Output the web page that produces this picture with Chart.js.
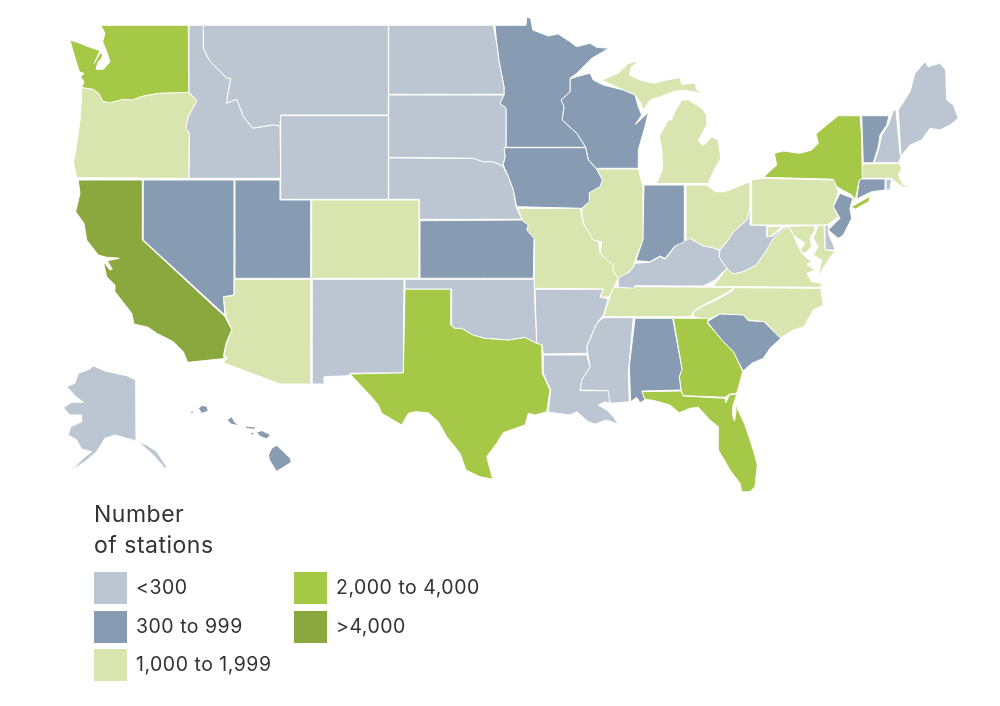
<!DOCTYPE html>
<html>
<head>
<meta charset="utf-8">
<title>Number of stations</title>
<script src="https://cdn.jsdelivr.net/npm/chart.js@4"></script>
<style>
    html, body { margin: 0; padding: 0; background: #fff; }
    #wrap { position: relative; width: 1000px; height: 706px; overflow: hidden; font-family: Inter, Lato, sans-serif; color: #333; }
    #map { position: absolute; left: 0; top: 0; }
    #legendTitle { position: absolute; left: 94px; top: 499px; font-size: 23px; line-height: 31px; letter-spacing: 0.5px; }
    .key { position: absolute; width: 33px; height: 32px; }
    .keyText { position: absolute; font-size: 19.5px; line-height: 22px; letter-spacing: 0.5px; white-space: nowrap; }
</style>
</head>
<body>
<div id="wrap">
    <canvas id="map" width="1000" height="706"></canvas>
    <div id="legendTitle">Number<br>of stations</div>
</div>
<script>
// legend classes
const binLabels = ['<300', '300 to 999', '1,000 to 1,999', '2,000 to 4,000', '>4,000'];
const binColors = ['#bcc6d2', '#879cb2', '#d8e5ae', '#a5c847', '#8aa83d'];

// class of each state, index into binLabels
const stateBins = {
    WA: 3, OR: 2, CA: 4, NV: 1, ID: 0, MT: 0, WY: 0, UT: 1, CO: 2, AZ: 2, NM: 0,
    ND: 0, SD: 0, NE: 0, KS: 1, OK: 0, TX: 3, MN: 1, IA: 1, MO: 2, AR: 0, LA: 0,
    WI: 1, IL: 2, MI: 2, IN: 1, OH: 2, KY: 0, TN: 2, MS: 0, AL: 1, GA: 3, FL: 3,
    SC: 1, NC: 2, VA: 2, WV: 0, MD: 2, DE: 0, PA: 2, NJ: 1, NY: 3, CT: 1, RI: 0,
    MA: 2, VT: 1, NH: 0, ME: 0, AK: 0, HI: 1
};

// state outlines in map units
const WA = [[[100.7,25.3],[188.3,25.3],[188.7,92.3],[158.3,93.3],[143.3,96],[131.7,100],[123.3,99.3],[110,102.7],[102.7,101.3],[99.3,94],[93.3,89.3],[81.7,87.5],[84,81.7],[80.7,76.7],[84,73.3],[79.3,71.7],[76.7,63.3],[72.7,50],[70,40],[80,43.3],[90,47.3],[100,50.7],[94.3,63.3],[100,53.3],[102.7,53.3],[101.7,58.3],[98,62],[96,69.3],[103.3,69.3],[110,61.7],[106.7,51.7],[102.7,41.7],[105,33.3]]];
const OR = [[[81.7,87.5],[93.3,89.3],[99.3,94],[102.7,101.3],[110,102.7],[123.3,99.3],[131.7,100],[143.3,96],[158.3,93.3],[188.7,92.3],[196.7,100.7],[188.3,116.7],[185.7,128.3],[189.3,133.3],[188.7,178.3],[76.7,177.7],[73.3,161.7],[75.7,151.7],[80,120],[81.7,96.7]]];
const CA = [[[78.3,180],[142.3,180],[142.3,240],[225,316.7],[231.7,330],[226,343.3],[223.3,356.7],[226.7,358.3],[187.7,362.3],[183.3,351.7],[173.3,341.7],[166.7,338.3],[156.7,333.3],[148.3,327.3],[134,324],[131.7,313.3],[115,291.7],[115,285],[106.7,276.7],[103.3,261.7],[110,270],[112.3,269.3],[107.3,260.7],[119.3,258.3],[106.7,257.3],[98.3,255],[86.7,240],[84,223.3],[75.7,211.7],[80,193.3]]];
const NV = [[[143.3,180],[234,180],[234,295],[223.3,296.7],[225,315],[143.3,240]]];
const ID = [[[189,25.3],[203.3,25.3],[203.3,48.3],[209,60],[226.7,78.3],[230.7,78.3],[227.3,96.7],[226.7,103.3],[236.7,99.3],[243.3,116.7],[252.7,128.3],[273.3,125],[280,126],[280.7,178.3],[189,178.3],[189.3,133.3],[185.7,128.3],[188.3,116.7],[196.7,100.7],[189,92.3]]];
const MT = [[[203.5,25.3],[388.3,25.3],[388.3,115],[280.7,115],[280,126],[273.3,125],[252.7,128.3],[243.3,116.7],[236.7,99.3],[226.7,103.3],[227.3,96.7],[230.7,78.3],[226.7,78.3],[209,60],[203.5,48.3]]];
const WY = [[[280.7,115.7],[388.3,115.7],[388.3,199.3],[280.7,199.3]]];
const UT = [[[235,180],[280,180],[280,200],[310.7,200],[310.7,278.3],[235,278.3]]];
const CO = [[[311.7,200],[419,200],[419,278.3],[311.7,278.3]]];
const AZ = [[[235,279.3],[310.7,279.3],[310.7,384],[280,384],[223.3,362.7],[227.3,358.3],[224,355],[226.7,343.3],[232,330],[226,316.7],[223.3,296.7],[231.7,296],[234,295.3]]];
const NM = [[[312.3,279.3],[404,279.3],[403.3,372.7],[350,373.3],[348.3,375.7],[324,376.7],[324,384],[312.3,384]]];
const ND = [[[388.7,25.3],[493.3,25.3],[496.7,43],[499.3,63],[504,86.7],[504,94.3],[388.7,94.3]]];
const SD = [[[388.7,95],[504,95],[500,103.3],[506,108.3],[506,146.7],[504,148.3],[505,156.7],[502.7,166],[493.3,161.7],[483.3,161.7],[473.3,158.3],[388.7,157.3]]];
const NE = [[[388.7,158],[473.3,158.3],[483.3,161.7],[493.3,161.7],[502.7,166],[508.3,176.7],[513.3,190],[516,206.7],[521.7,219.3],[419.3,219.3],[419.3,199.3],[388.7,199.3]]];
const KS = [[[420,220.7],[521.7,220],[528.3,225],[526.7,230],[534,238.3],[533.3,278.3],[420,278.3]]];
const OK = [[[405,279.3],[534,279.3],[535,306.7],[536.7,343.3],[525,337.3],[508.3,340],[496.7,339],[485,338.3],[473.3,335],[461.7,328.3],[455,328.3],[451.7,325],[451.7,289],[405,289]]];
const TX = [[[405,289],[450.7,289],[450.7,325],[455,328.3],[461.7,328.3],[473.3,335],[485,338.3],[496.7,339],[508.3,340],[525,337.3],[536.7,343.3],[541.7,345],[542.3,373.3],[550,390],[546.7,411.7],[535,415],[528.3,413.3],[525,425],[503.3,432.7],[496.7,443.3],[486.7,456.7],[492.7,479.3],[480,476.7],[466,470],[460,453.3],[446.7,436.7],[438.3,421.7],[428.3,412.7],[415,411.7],[408.3,413.3],[401.7,425],[381.7,413.3],[378.3,405],[368.3,393.3],[350,374],[403.3,372.7]]];
const MN = [[[495,25.3],[526,25.3],[526.7,17.3],[530.7,18.3],[532.7,30],[548.3,36],[558.3,34],[570,41.7],[576.7,46.7],[590,43.3],[596.7,47.3],[609,48.3],[591.7,58.3],[576.7,73.3],[570,78.3],[570,91.7],[561,100],[564,106.7],[562,120],[576.7,133.3],[585.7,147.3],[506,147.3],[506,108.3],[500,103.3],[504,95],[504,86.7],[499.3,63],[496.7,43]]];
const IA = [[[504,147.7],[585.7,147.7],[588.3,160],[596.7,169.3],[602.3,180],[600,186.7],[589.3,192.7],[589.3,201.7],[581.7,208.3],[516.7,206.7],[513.3,190],[508.3,176.7],[503.3,165],[505,156.7]]];
const MO = [[[517.7,208.3],[580,208.3],[583.3,223.3],[593.3,240],[598.3,241.7],[600,253.3],[613.3,266],[613.3,271.7],[618.3,278.3],[613.3,288.3],[609.3,296.7],[600,297.3],[604,289],[534.3,288.3],[534.3,240],[526.7,230],[528.3,225],[521.7,220]]];
const AR = [[[535,289.3],[603.3,289.3],[600,296.7],[608.3,299.3],[603.3,315],[596.7,323.3],[586.7,346.7],[587.3,353.3],[543.3,354],[542.3,345],[536.7,343.3]]];
const LA = [[[543.3,355],[586.7,355],[590,366.7],[581.7,380],[580,390.7],[608.3,390.7],[610,403.3],[605,401.7],[598.3,405],[606.7,410],[613.3,416.7],[618.3,424.3],[606.7,420],[595,424],[588.3,421.7],[576.7,411.7],[570,415],[548.3,412.3],[550.7,390],[543.3,373.3]]];
const WI = [[[570,79],[576.7,76.7],[590,73.3],[593.3,80],[603.3,85],[623.3,90],[635,95],[638.3,106.7],[641.7,115],[635,125],[648.3,112.3],[645,126.7],[638.3,150],[638.3,168.3],[596.7,168.3],[588.3,160],[585.7,147.3],[576.7,133.3],[562,120],[564,106.7],[561,100],[570,91.7]]];
const IL = [[[596.7,169],[638.3,169],[642,183],[643,186],[643,240],[635,261],[633,268],[626.7,273.3],[618.3,278.3],[613.3,271.7],[613.3,266],[600,253.3],[602,242],[593.3,240],[583.3,223.3],[581.7,209],[589.3,201.7],[589.3,192.7],[600,186.7],[602.3,180]]];
const MI = [
    [[656.7,183.5],[662.7,168.3],[661.7,148.3],[659.3,136.7],[668.3,120],[671.7,120],[673.3,115],[681.7,100],[688.3,100],[701.7,108.3],[706.7,115],[706.7,125],[698.3,141],[703.3,145.7],[711.7,136.7],[718.3,140],[720.7,158.3],[713.3,171.7],[708.3,183.5]],
    [[601.7,80],[610,76.7],[618.3,73.3],[628.3,63.3],[639.3,61],[631.7,66.7],[629.3,75],[640,80],[653.3,83.3],[666.7,80],[680,77.7],[681.7,84.3],[695,83.3],[696.7,90],[705,94],[693.3,91.7],[683.3,90],[673.3,91.7],[660,96.7],[650,100],[643.3,110],[640,101.7],[635,95],[623.3,90]]
];
const IN = [[[644,185],[684.3,185],[684.3,241.7],[675,246],[665,258.3],[660,256],[650,261.7],[636,260.7],[642.7,240]]];
const OH = [[[686,185],[706.7,185],[715,191.7],[725,191.7],[750,181.7],[750,208.3],[746.7,220],[733.3,231.7],[728.3,240],[719.3,250],[711.7,247.3],[703.3,246],[690,238.3],[686,240.7]]];
const KY = [[[685,239.3],[690,238.3],[703.3,246],[711.7,247.3],[719.3,250],[719.3,257.3],[726.7,268.3],[715,280],[703.3,286],[635,285.7],[633.3,288.3],[618.3,287.3],[618.3,276.7],[630,271.7],[635,263.3],[650,262.3],[660,256.7],[665,259],[675,246.7]]];
const TN = [[[613.3,287.3],[633.3,286.7],[733.3,287.3],[731.7,290],[716.7,298.3],[700,306.7],[692.7,311.7],[691.7,316.7],[603.3,316.7],[608.3,301.7]]];
const MS = [[[633.3,317.7],[628.3,373.3],[629.3,401.7],[611.7,403.3],[608.3,400],[608.3,390.7],[580,390],[581.7,380],[590,366.7],[586.7,346.7],[596.7,323.3],[603.3,317.7]]];
const AL = [[[635,318.3],[672.7,318.3],[682,369.3],[679.3,376.7],[681,390],[641.7,391],[645,400],[640,402.7],[636.7,397.3],[630.7,401.7],[629.3,366.7]]];
const GA = [[[673.3,318.3],[708.3,318.3],[707.3,323.3],[715,331.7],[723.3,341.7],[733.3,351.7],[738.3,361.7],[742.7,371.7],[740,381.7],[736.7,393.3],[730,394],[725,397.3],[683.3,395.7],[681,390],[679.3,376.7],[682,369.3]]];
const FL = [[[641.7,391.7],[681,391],[683.3,396],[725,398.3],[726,402.7],[729.3,395],[736.7,394],[735,400],[733,405],[732.5,415],[734.5,421],[736,412],[736,403],[738,410],[745,425],[753.3,450],[757.3,465],[755,486.7],[750,491.7],[741.7,491.7],[740,483.3],[730,470],[723.3,458.3],[718.3,450],[718.3,426.7],[710,420],[698.3,407.3],[690,408.3],[679.3,412.7],[670,405],[655,400.7],[645,399.3]]];
const SC = [[[707.3,321.7],[720,314],[743.3,315],[748.3,320.7],[764,321.7],[780.7,338.3],[770,348.3],[763.3,358.3],[751.7,363.3],[743.3,371],[738.3,361.7],[733.3,351.7],[723.3,341.7],[715,331.7]]];
const NC = [[[734.3,287.7],[820.7,288.3],[823.3,305],[813.3,310],[804,326.7],[793.3,330],[780,338.3],[765,321.7],[748.3,320],[743.3,315],[720,314],[707,320],[693.3,316.7],[694,311.7],[701.7,306.7],[718.3,299],[732.7,290.7]]];
const VA = [[[713,286.5],[726.7,268.3],[733.3,274],[743.3,271.7],[756.7,265],[766.7,250],[773.3,238.3],[783.3,230],[788.3,226.7],[793.3,235],[800,250],[803.3,255],[811.7,261.7],[806.7,264.3],[815,270],[806.7,273.3],[811.7,281.7],[821.7,283.3],[820.7,287.3]]];
const WV = [[[750,208.3],[750,225],[766.7,225.7],[766.7,236.7],[773,236],[783.3,228],[788.3,225.7],[793.3,233.3],[791.7,236],[785,231],[776.7,238.3],[766.7,250],[756.7,265],[743.3,271.7],[733.3,274],[726.7,268.3],[719.3,257.3],[720,250],[728.3,240],[733.3,231.7],[746.7,220]]];
const MD = [
    [[767.3,226.7],[814.5,225.7],[815,230],[810,238.3],[811.7,246.7],[805,253.3],[800,250],[805,243.3],[793.3,235],[785,226.7],[780,228.3],[770,236.7],[767.3,236.7]],
    [[818.3,225.2],[824,225.2],[825,250],[835,251],[828.3,260],[823.3,268.3],[818.3,276.7],[821.7,260],[813.3,255],[818.3,246.7],[813.3,238.3]]
];
const DE = [[[825,225],[828.3,225],[828.3,233.3],[832.7,243.3],[835,250],[825,250]]];
const PA = [[[751.7,180],[762.3,178.3],[834,180],[838.3,191.7],[833.3,206.7],[838.3,216.7],[828.3,224.3],[823.3,225],[751.7,225]]];
const NJ = [[[840,193.3],[852.7,198.3],[850,208.3],[851.7,218.3],[843.3,235],[838.3,238.3],[828.3,230],[840,218.3],[833.3,206.7]]];
const NY = [
    [[763.3,177.3],[776.7,165],[774.3,153.3],[783.3,151],[800,153.3],[811.7,150],[818.3,143.3],[816,134],[826.7,125],[838.3,115.7],[860,115.7],[861.7,136.7],[862.3,178.3],[859.3,180],[856.7,193],[855,200],[851.7,195],[836.7,186.7],[832.7,179.3]],
    [[851,207],[870,196.2],[869,201.5],[855.5,209]]
];
const CT = [[[859.3,179],[885,179],[885,190],[871.7,191.7],[856.7,199]]];
const RI = [[[886,179.3],[891.7,179.3],[890,190],[886,190]]];
const MA = [[[860.7,164],[899.3,163.3],[901.7,168.3],[898.3,175],[903.3,185],[912.7,185],[903.3,187.3],[895,181.7],[891.7,178.3],[860,178.3]]];
const VT = [[[861.7,115.7],[889,115.7],[886.7,125],[880,135],[878.3,146.7],[873.3,162.7],[863.3,162.7]]];
const NH = [[[893.3,110.7],[896,110],[900,153.3],[900.7,157.3],[898.3,162.7],[874.3,162.7],[879.3,146.7],[881.7,135],[888.3,125]]];
const ME = [[[898.3,110],[910,91.7],[915,73.3],[925,61.7],[928.3,66.7],[940,63.3],[945.7,70],[946.7,100],[953.3,105],[958.3,118.3],[950,125],[940,130],[930,128.3],[921.7,140],[910,145],[901,156]]];
const AK = [
    [[93.3,365.7],[105,371],[126.7,375.7],[135.7,380],[136,441],[126.7,438.3],[115,435],[105,438.3],[96.7,451.7],[85,461.7],[71.7,470],[83.3,458.3],[91.7,451.7],[81.7,449],[76.7,440],[68.3,435],[70.7,426.7],[81.7,421.7],[81.7,415],[70,415],[63.3,407.7],[71.7,402.3],[83.3,402.3],[76,396.7],[66.7,386.7],[75,383.3],[78.3,373.3],[90,369]],
    [[136,441],[146.7,445],[156.7,451.7],[166.7,466.7],[165,468.3],[153.3,455],[140,443.3]]
];
const HI = [
    [[199,408.3],[201.7,406],[206.7,406.7],[207.7,411],[201.7,412.7]],
    [[190.7,412.3],[193.3,411],[192.3,413.3]],
    [[227.7,420],[231.7,417.3],[234,421.7],[237.7,425],[231.7,424]],
    [[245.7,426.7],[255,427.3],[254,429],[246.7,428.3]],
    [[250.7,432.7],[254,433.3],[252.7,435]],
    [[257.3,432.3],[261.7,431],[270,435],[266.7,438.3],[260,436]],
    [[272.3,448.3],[276.7,445.7],[290,458.3],[290.7,462.3],[276.7,471],[270,460],[269,455]]
];

const outlines = { WA, OR, CA, NV, ID, MT, WY, UT, CO, AZ, NM, ND, SD, NE, KS, OK, TX, MN, IA, MO, AR, LA, WI, IL, MI, IN, OH, KY, TN, MS, AL, GA, FL, SC, NC, VA, WV, MD, DE, PA, NJ, NY, CT, RI, MA, VT, NH, ME, AK, HI };

// one filled dataset per piece of land
function buildDatasets() {
    const sets = [];
    Object.keys(outlines).forEach(function(state) {
        outlines[state].forEach(function(part) {
            const pts = part.map(p => ({ x: p[0], y: p[1] }));
            pts.push(pts[0]);
            sets.push({
                label: state,
                data: pts,
                showLine: true,
                fill: 'shape',
                tension: 0.001,
                backgroundColor: binColors[stateBins[state]],
                borderColor: '#ffffff',
                // the islands are too small for a white edge
                borderWidth: state === 'HI' ? 0 : 1,
                borderJoinStyle: 'round',
                pointRadius: 0,
                pointHoverRadius: 0
            });
        });
    });
    return sets;
}

function initMap() {
    new Chart(document.getElementById('map'), {
        type: 'scatter',
        data: { datasets: buildDatasets() },
        options: {
            responsive: false,
            animation: false,
            events: [],
            layout: { padding: 0 },
            plugins: { legend: { display: false }, tooltip: { enabled: false } },
            scales: {
                x: { type: 'linear', min: 0, max: 1000, display: false },
                y: { type: 'linear', min: 0, max: 706, reverse: true, display: false }
            }
        }
    });
}

// legend, two columns
function buildLegend() {
    const wrap = document.getElementById('wrap');
    const lefts = [94, 94, 94, 294, 294];
    const tops = [572, 611, 649, 572, 611];
    binLabels.forEach(function(label, i) {
        const key = document.createElement('div');
        key.className = 'key';
        key.style.left = lefts[i] + 'px';
        key.style.top = tops[i] + 'px';
        key.style.background = binColors[i];
        wrap.appendChild(key);
        const text = document.createElement('div');
        text.className = 'keyText';
        text.style.left = (lefts[i] + 42) + 'px';
        text.style.top = (tops[i] + 4) + 'px';
        text.textContent = label;
        wrap.appendChild(text);
    });
}

document.addEventListener('DOMContentLoaded', function() {
    initMap();
    buildLegend();
});
</script>
</body>
</html>
